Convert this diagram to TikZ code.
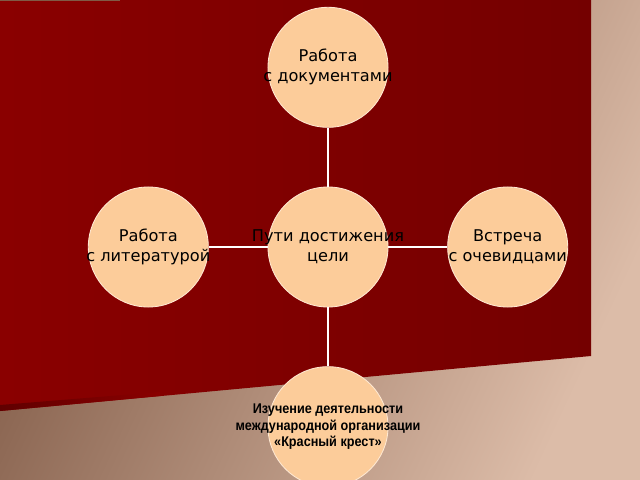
\documentclass[tikz,border=0pt]{standalone}
\usepackage{fontspec}
\setmainfont{DejaVu Sans}
\newfontfamily\narrowfont[FakeStretch=0.9]{Liberation Sans}
\definecolor{slidered}{RGB}{138, 0, 0}
\definecolor{slidereddark}{RGB}{116, 0, 0}
\definecolor{redshadow}{RGB}{96, 0, 0}
\definecolor{tanlight}{RGB}{220, 188, 168}
\definecolor{tandark}{RGB}{128, 90, 70}
\definecolor{peach}{RGB}{252, 204, 154}
\usetikzlibrary{positioning}

\begin{document}
\begin{tikzpicture}[x=0.025cm, y=-0.025cm, node distance=1.47cm,
  goal/.style={circle, fill=peach, draw=white!55!peach, line width=0.6pt,
    minimum size=3cm, inner sep=0pt},
  goaltext/.style={align=center, font=\fontsize{11.5}{14.2}\selectfont},
  smalltext/.style={align=center, font=\narrowfont\bfseries\fontsize{10}{11.7}\selectfont},
  link/.style={white, line width=1pt}]
  \useasboundingbox (0,0) rectangle (640,480);

  % --- background ---
  \shade[top color=tandark, bottom color=tanlight, shading angle=65] (0,0) rectangle (640,480);
  \shade[left color=slidered, right color=slidereddark] (0,0) -- (591,0) -- (591,356) -- (0,411) -- cycle;
  \shade[left color=redshadow, right color=slidered] (0,405) -- (160,392) -- (160,396) -- (0,411) -- cycle;
  \draw[tandark, line width=1.2pt] (0,0.6) -- (120,0.6);

  % --- circles ---
  \node[goal, label={[goaltext]center:Пути достижения\\цели}] (aim) at (328,247) {};
  \node[goal, above=of aim, label={[goaltext]center:Работа\\с документами}] (docs) {};
  \node[goal, left=of aim, label={[goaltext]center:Работа\\с литературой}] (books) {};
  \node[goal, right=of aim, label={[goaltext]center:Встреча\\с очевидцами}] (witness) {};
  \node[goal, below=of aim, label={[smalltext]center:Изучение деятельности\\международной организации\\«Красный крест»}] (redcross) {};

  % --- links ---
  \foreach \n in {docs, books, witness, redcross} {
    \draw[link] (aim) -- (\n);
  }
\end{tikzpicture}
\end{document}
